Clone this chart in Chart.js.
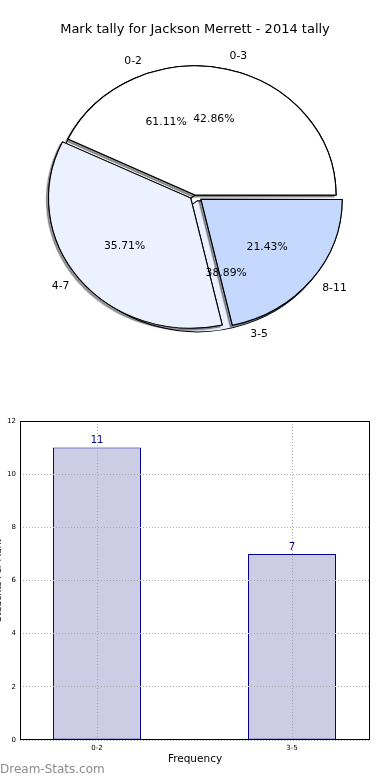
<!DOCTYPE html>
<html>
<head>
<meta charset="utf-8">
<script src="https://cdn.jsdelivr.net/npm/chart.js@4.4.0/dist/chart.umd.min.js"></script>
<style>
  html, body { margin: 0; padding: 0; background: #fff; }
  body { position: relative; width: 390px; height: 780px; overflow: hidden; }
  canvas { position: absolute; }
  #mark { position: absolute; left: 0; top: 762px; font: 12px "DejaVu Sans", sans-serif; color: #8c8c8c; }
</style>
</head>
<body>
<canvas id="pieBack" width="390" height="360" style="left:0;top:0"></canvas>
<canvas id="pieFront" width="390" height="360" style="left:0;top:0"></canvas>
<canvas id="bars" width="402" height="380" style="left:-12px;top:400px"></canvas>
<div id="mark">Dream-Stats.com</div>
<script>
// pie data (two tallies drawn on top of each other)
var pieTitle = 'Mark tally for Jackson Merrett - 2014 tally';
var backLabels = ['0-2', '3-5'];
var backValues = [11, 7];
var frontLabels = ['0-3', '4-7', '8-11'];
var frontValues = [6, 5, 3];

// bar data
var barLabels = ['0-2', '3-5'];
var barValues = [11, 7];
var yTicks = [0, 2, 4, 6, 8, 10, 12];

var FONT = '"DejaVu Sans", sans-serif';
var SX = 141 / 129;      // matplotlib pie is a bit wider than tall
var OFFSET_DIV = 4;      // chart.js v4 arc offset is divided by 4 when drawn

function rev(a) { return a.slice().reverse(); }

// squash the pie into an ellipse, optionally with a shadow underneath
function squashPlugin(withShadow) {
  return {
    id: 'squash',
    beforeDatasetsDraw: function (chart) {
      var ctx = chart.ctx;
      var arcs = chart.getDatasetMeta(0).data;
      var cx = arcs[0].x, cy = arcs[0].y;
      ctx.save();
      ctx.translate(cx, cy);
      ctx.scale(SX, 1);
      ctx.translate(-cx, -cy);
      if (withShadow) {
        arcs.forEach(function (arc) {
          ctx.save();
          ctx.shadowColor = 'rgba(0,0,0,0.4)';
          ctx.shadowOffsetX = -2;
          ctx.shadowOffsetY = 2;
          ctx.shadowBlur = 1;
          arc.draw(ctx);
          ctx.restore();
        });
      }
    },
    afterDatasetsDraw: function (chart) {
      chart.ctx.restore();
    }
  };
}

function drawPieText(ctx, chart, labels, values) {
  var arcs = chart.getDatasetMeta(0).data;
  var total = values.reduce(function (a, b) { return a + b; }, 0);
  arcs.forEach(function (arc, j) {
    var i = values.length - 1 - j;
    var mid = (arc.startAngle + arc.endAngle) / 2;
    var shift = (arc.options.offset || 0) / OFFSET_DIV;
    var r = arc.outerRadius;
    function pos(k) {
      var d = k * r + shift;
      return [arc.x + Math.cos(mid) * d * SX, arc.y + Math.sin(mid) * d];
    }
    ctx.fillStyle = '#000';
    ctx.font = '10.8px ' + FONT;
    ctx.textBaseline = 'middle';
    var p = pos(1.1);
    ctx.textAlign = Math.cos(mid) > 0 ? 'left' : 'right';
    ctx.fillText(labels[i], p[0], p[1]);
    p = pos(0.6);
    ctx.textAlign = 'center';
    ctx.fillText((values[i] / total * 100).toFixed(2) + '%', p[0], p[1]);
  });
}

function pieConfig(labels, values, colors, explode, plugins) {
  return {
    type: 'pie',
    data: {
      labels: rev(labels),
      datasets: [{
        data: rev(values),
        backgroundColor: rev(colors),
        offset: rev(explode).map(function (e) { return e * OFFSET_DIV; }),
        borderColor: '#000',
        borderWidth: 1,
        borderJoinStyle: 'miter',
        clip: false
      }]
    },
    options: {
      responsive: false,
      animation: false,
      events: [],
      rotation: 90,
      radius: 129,
      layout: { padding: { top: 30 } },
      plugins: { legend: { display: false }, tooltip: { enabled: false } }
    },
    plugins: plugins
  };
}

var backChart = new Chart(document.getElementById('pieBack'),
  pieConfig(backLabels, backValues, ['#ffffff', '#ebf1fe'], [0, 6], [squashPlugin(false)]));

new Chart(document.getElementById('pieFront'),
  pieConfig(frontLabels, frontValues, ['#ffffff', '#ebf1fe', '#c5d9ff'], [0, 5, 7], [
    squashPlugin(true),
    {
      id: 'pieText',
      afterDraw: function (chart) {
        var ctx = chart.ctx;
        ctx.save();
        ctx.fillStyle = '#000';
        ctx.font = '13px ' + FONT;
        ctx.textAlign = 'center';
        ctx.textBaseline = 'middle';
        ctx.fillText(pieTitle, chart.width / 2, 30);
        drawPieText(ctx, backChart, backLabels, backValues);
        drawPieText(ctx, chart, frontLabels, frontValues);
        ctx.restore();
      }
    }
  ]));

// bar chart
var barPlugins = [{
  id: 'frame',
  afterDraw: function (chart) {
    var a = chart.chartArea, ctx = chart.ctx;
    ctx.save();
    ctx.strokeStyle = '#000';
    ctx.lineWidth = 1;
    ctx.strokeRect(Math.round(a.left) + 0.5, Math.round(a.top) + 0.5,
      Math.round(a.right - a.left) - 1, Math.round(a.bottom - a.top) - 1);
    ctx.restore();
  }
}, {
  id: 'values',
  afterDatasetsDraw: function (chart) {
    var ctx = chart.ctx;
    ctx.save();
    ctx.fillStyle = '#00008b';
    ctx.font = '10px ' + FONT;
    ctx.textAlign = 'center';
    ctx.textBaseline = 'bottom';
    chart.getDatasetMeta(0).data.forEach(function (bar, i) {
      ctx.fillText(String(barValues[i]), bar.x, bar.y - 2);
    });
    ctx.restore();
  }
}];

new Chart(document.getElementById('bars'), {
  type: 'bar',
  data: {
    datasets: [{
      data: barValues.map(function (v, i) { return { x: i, y: v }; }),
      backgroundColor: '#ccccE5',
      borderColor: '#00008b',
      borderWidth: 1,
      borderSkipped: false,
      barPercentage: 0.4513,
      categoryPercentage: 1
    }]
  },
  options: {
    responsive: false,
    animation: false,
    events: [],
    layout: { padding: { top: 21, right: 20, left: 0, bottom: 0 } },
    plugins: { legend: { display: false }, tooltip: { enabled: false } },
    scales: {
      x: {
        type: 'linear',
        min: -0.395,
        max: 1.4,
        offset: false,
        afterFit: function (s) { s.height = 40; },
        ticks: {
          stepSize: 1,
          includeBounds: false,
          padding: 4,
          color: '#000',
          font: { family: FONT, size: 7 },
          callback: function (v) { return barLabels[v]; }
        },
        grid: { offset: false, color: '#aaa', z: 1, drawTicks: false },
        border: { display: false, dash: [1, 2] },
        title: { display: true, text: 'Frequency', color: '#000', font: { family: FONT, size: 10.5 }, padding: { top: 0, bottom: 14 } }
      },
      y: {
        min: yTicks[0],
        max: yTicks[yTicks.length - 1],
        afterFit: function (s) { s.width = 32; },
        ticks: {
          stepSize: yTicks[1] - yTicks[0],
          padding: 4,
          color: '#000',
          font: { family: FONT, size: 7 }
        },
        grid: { color: '#aaa', z: 1, drawTicks: false },
        border: { display: false, dash: [1, 2] },
        title: { display: true, text: 'Students Per Mark', color: '#000', font: { family: FONT, size: 9 }, padding: { top: 5, bottom: 0 } }
      }
    }
  },
  plugins: barPlugins
});
</script>
</body>
</html>
